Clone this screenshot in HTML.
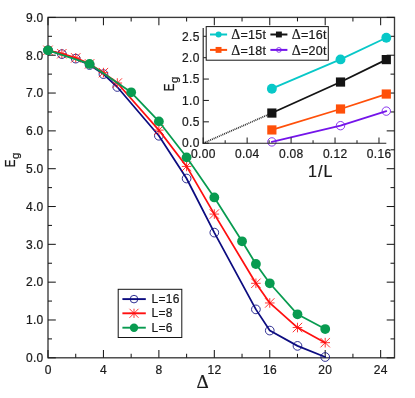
<!DOCTYPE html>
<html lang="en"><head><meta charset="utf-8"><title>Eg vs Delta</title>
<style>html,body{margin:0;padding:0;background:#fff}body{width:415px;height:398px;overflow:hidden}svg{display:block;opacity:0.999;will-change:transform}</style>
</head><body>
<svg width="415" height="398" viewBox="0 0 415 398">
<rect width="415" height="398" fill="#ffffff"/>
<rect x="48" y="17.4" width="346.5" height="340.4" fill="none" stroke="#3a3a3a" stroke-width="1.35"/>
<line x1="48" y1="357.8" x2="48" y2="350" stroke="#1a1a1a" stroke-width="1.05"/>
<line x1="48" y1="17.4" x2="48" y2="25.2" stroke="#1a1a1a" stroke-width="1.05"/>
<text x="48.15" y="373.8" font-size="12" text-anchor="middle" font-family='"Liberation Sans", Arial, Helvetica, sans-serif' fill="#1a1a1a" stroke="#1a1a1a" stroke-width="0.22" letter-spacing="0.3">0</text>
<line x1="75.72" y1="357.8" x2="75.72" y2="353.8" stroke="#1a1a1a" stroke-width="1.05"/>
<line x1="75.72" y1="17.4" x2="75.72" y2="21.4" stroke="#1a1a1a" stroke-width="1.05"/>
<line x1="103.44" y1="357.8" x2="103.44" y2="350" stroke="#1a1a1a" stroke-width="1.05"/>
<line x1="103.44" y1="17.4" x2="103.44" y2="25.2" stroke="#1a1a1a" stroke-width="1.05"/>
<text x="103.59" y="373.8" font-size="12" text-anchor="middle" font-family='"Liberation Sans", Arial, Helvetica, sans-serif' fill="#1a1a1a" stroke="#1a1a1a" stroke-width="0.22" letter-spacing="0.3">4</text>
<line x1="131.16" y1="357.8" x2="131.16" y2="353.8" stroke="#1a1a1a" stroke-width="1.05"/>
<line x1="131.16" y1="17.4" x2="131.16" y2="21.4" stroke="#1a1a1a" stroke-width="1.05"/>
<line x1="158.88" y1="357.8" x2="158.88" y2="350" stroke="#1a1a1a" stroke-width="1.05"/>
<line x1="158.88" y1="17.4" x2="158.88" y2="25.2" stroke="#1a1a1a" stroke-width="1.05"/>
<text x="159.03" y="373.8" font-size="12" text-anchor="middle" font-family='"Liberation Sans", Arial, Helvetica, sans-serif' fill="#1a1a1a" stroke="#1a1a1a" stroke-width="0.22" letter-spacing="0.3">8</text>
<line x1="186.6" y1="357.8" x2="186.6" y2="353.8" stroke="#1a1a1a" stroke-width="1.05"/>
<line x1="186.6" y1="17.4" x2="186.6" y2="21.4" stroke="#1a1a1a" stroke-width="1.05"/>
<line x1="214.32" y1="357.8" x2="214.32" y2="350" stroke="#1a1a1a" stroke-width="1.05"/>
<line x1="214.32" y1="17.4" x2="214.32" y2="25.2" stroke="#1a1a1a" stroke-width="1.05"/>
<text x="214.47" y="373.8" font-size="12" text-anchor="middle" font-family='"Liberation Sans", Arial, Helvetica, sans-serif' fill="#1a1a1a" stroke="#1a1a1a" stroke-width="0.22" letter-spacing="0.3">12</text>
<line x1="242.04" y1="357.8" x2="242.04" y2="353.8" stroke="#1a1a1a" stroke-width="1.05"/>
<line x1="242.04" y1="17.4" x2="242.04" y2="21.4" stroke="#1a1a1a" stroke-width="1.05"/>
<line x1="269.76" y1="357.8" x2="269.76" y2="350" stroke="#1a1a1a" stroke-width="1.05"/>
<line x1="269.76" y1="17.4" x2="269.76" y2="25.2" stroke="#1a1a1a" stroke-width="1.05"/>
<text x="269.91" y="373.8" font-size="12" text-anchor="middle" font-family='"Liberation Sans", Arial, Helvetica, sans-serif' fill="#1a1a1a" stroke="#1a1a1a" stroke-width="0.22" letter-spacing="0.3">16</text>
<line x1="297.48" y1="357.8" x2="297.48" y2="353.8" stroke="#1a1a1a" stroke-width="1.05"/>
<line x1="297.48" y1="17.4" x2="297.48" y2="21.4" stroke="#1a1a1a" stroke-width="1.05"/>
<line x1="325.2" y1="357.8" x2="325.2" y2="350" stroke="#1a1a1a" stroke-width="1.05"/>
<line x1="325.2" y1="17.4" x2="325.2" y2="25.2" stroke="#1a1a1a" stroke-width="1.05"/>
<text x="325.35" y="373.8" font-size="12" text-anchor="middle" font-family='"Liberation Sans", Arial, Helvetica, sans-serif' fill="#1a1a1a" stroke="#1a1a1a" stroke-width="0.22" letter-spacing="0.3">20</text>
<line x1="352.92" y1="357.8" x2="352.92" y2="353.8" stroke="#1a1a1a" stroke-width="1.05"/>
<line x1="352.92" y1="17.4" x2="352.92" y2="21.4" stroke="#1a1a1a" stroke-width="1.05"/>
<line x1="380.64" y1="357.8" x2="380.64" y2="350" stroke="#1a1a1a" stroke-width="1.05"/>
<line x1="380.64" y1="17.4" x2="380.64" y2="25.2" stroke="#1a1a1a" stroke-width="1.05"/>
<text x="380.79" y="373.8" font-size="12" text-anchor="middle" font-family='"Liberation Sans", Arial, Helvetica, sans-serif' fill="#1a1a1a" stroke="#1a1a1a" stroke-width="0.22" letter-spacing="0.3">24</text>
<line x1="48" y1="357.8" x2="55.8" y2="357.8" stroke="#1a1a1a" stroke-width="1.05"/>
<line x1="394.5" y1="357.8" x2="386.7" y2="357.8" stroke="#1a1a1a" stroke-width="1.05"/>
<text x="43.5" y="362.1" font-size="12" text-anchor="end" font-family='"Liberation Sans", Arial, Helvetica, sans-serif' fill="#1a1a1a" stroke="#1a1a1a" stroke-width="0.22" letter-spacing="0.3">0.0</text>
<line x1="48" y1="338.89" x2="52" y2="338.89" stroke="#1a1a1a" stroke-width="1.05"/>
<line x1="394.5" y1="338.89" x2="390.5" y2="338.89" stroke="#1a1a1a" stroke-width="1.05"/>
<line x1="48" y1="319.98" x2="55.8" y2="319.98" stroke="#1a1a1a" stroke-width="1.05"/>
<line x1="394.5" y1="319.98" x2="386.7" y2="319.98" stroke="#1a1a1a" stroke-width="1.05"/>
<text x="43.5" y="324.28" font-size="12" text-anchor="end" font-family='"Liberation Sans", Arial, Helvetica, sans-serif' fill="#1a1a1a" stroke="#1a1a1a" stroke-width="0.22" letter-spacing="0.3">1.0</text>
<line x1="48" y1="301.07" x2="52" y2="301.07" stroke="#1a1a1a" stroke-width="1.05"/>
<line x1="394.5" y1="301.07" x2="390.5" y2="301.07" stroke="#1a1a1a" stroke-width="1.05"/>
<line x1="48" y1="282.16" x2="55.8" y2="282.16" stroke="#1a1a1a" stroke-width="1.05"/>
<line x1="394.5" y1="282.16" x2="386.7" y2="282.16" stroke="#1a1a1a" stroke-width="1.05"/>
<text x="43.5" y="286.46" font-size="12" text-anchor="end" font-family='"Liberation Sans", Arial, Helvetica, sans-serif' fill="#1a1a1a" stroke="#1a1a1a" stroke-width="0.22" letter-spacing="0.3">2.0</text>
<line x1="48" y1="263.24" x2="52" y2="263.24" stroke="#1a1a1a" stroke-width="1.05"/>
<line x1="394.5" y1="263.24" x2="390.5" y2="263.24" stroke="#1a1a1a" stroke-width="1.05"/>
<line x1="48" y1="244.33" x2="55.8" y2="244.33" stroke="#1a1a1a" stroke-width="1.05"/>
<line x1="394.5" y1="244.33" x2="386.7" y2="244.33" stroke="#1a1a1a" stroke-width="1.05"/>
<text x="43.5" y="248.63" font-size="12" text-anchor="end" font-family='"Liberation Sans", Arial, Helvetica, sans-serif' fill="#1a1a1a" stroke="#1a1a1a" stroke-width="0.22" letter-spacing="0.3">3.0</text>
<line x1="48" y1="225.42" x2="52" y2="225.42" stroke="#1a1a1a" stroke-width="1.05"/>
<line x1="394.5" y1="225.42" x2="390.5" y2="225.42" stroke="#1a1a1a" stroke-width="1.05"/>
<line x1="48" y1="206.51" x2="55.8" y2="206.51" stroke="#1a1a1a" stroke-width="1.05"/>
<line x1="394.5" y1="206.51" x2="386.7" y2="206.51" stroke="#1a1a1a" stroke-width="1.05"/>
<text x="43.5" y="210.81" font-size="12" text-anchor="end" font-family='"Liberation Sans", Arial, Helvetica, sans-serif' fill="#1a1a1a" stroke="#1a1a1a" stroke-width="0.22" letter-spacing="0.3">4.0</text>
<line x1="48" y1="187.6" x2="52" y2="187.6" stroke="#1a1a1a" stroke-width="1.05"/>
<line x1="394.5" y1="187.6" x2="390.5" y2="187.6" stroke="#1a1a1a" stroke-width="1.05"/>
<line x1="48" y1="168.69" x2="55.8" y2="168.69" stroke="#1a1a1a" stroke-width="1.05"/>
<line x1="394.5" y1="168.69" x2="386.7" y2="168.69" stroke="#1a1a1a" stroke-width="1.05"/>
<text x="43.5" y="172.99" font-size="12" text-anchor="end" font-family='"Liberation Sans", Arial, Helvetica, sans-serif' fill="#1a1a1a" stroke="#1a1a1a" stroke-width="0.22" letter-spacing="0.3">5.0</text>
<line x1="48" y1="149.78" x2="52" y2="149.78" stroke="#1a1a1a" stroke-width="1.05"/>
<line x1="394.5" y1="149.78" x2="390.5" y2="149.78" stroke="#1a1a1a" stroke-width="1.05"/>
<line x1="48" y1="130.87" x2="55.8" y2="130.87" stroke="#1a1a1a" stroke-width="1.05"/>
<line x1="394.5" y1="130.87" x2="386.7" y2="130.87" stroke="#1a1a1a" stroke-width="1.05"/>
<text x="43.5" y="135.17" font-size="12" text-anchor="end" font-family='"Liberation Sans", Arial, Helvetica, sans-serif' fill="#1a1a1a" stroke="#1a1a1a" stroke-width="0.22" letter-spacing="0.3">6.0</text>
<line x1="48" y1="111.96" x2="52" y2="111.96" stroke="#1a1a1a" stroke-width="1.05"/>
<line x1="394.5" y1="111.96" x2="390.5" y2="111.96" stroke="#1a1a1a" stroke-width="1.05"/>
<line x1="48" y1="93.04" x2="55.8" y2="93.04" stroke="#1a1a1a" stroke-width="1.05"/>
<line x1="394.5" y1="93.04" x2="386.7" y2="93.04" stroke="#1a1a1a" stroke-width="1.05"/>
<text x="43.5" y="97.34" font-size="12" text-anchor="end" font-family='"Liberation Sans", Arial, Helvetica, sans-serif' fill="#1a1a1a" stroke="#1a1a1a" stroke-width="0.22" letter-spacing="0.3">7.0</text>
<line x1="48" y1="74.13" x2="52" y2="74.13" stroke="#1a1a1a" stroke-width="1.05"/>
<line x1="394.5" y1="74.13" x2="390.5" y2="74.13" stroke="#1a1a1a" stroke-width="1.05"/>
<line x1="48" y1="55.22" x2="55.8" y2="55.22" stroke="#1a1a1a" stroke-width="1.05"/>
<line x1="394.5" y1="55.22" x2="386.7" y2="55.22" stroke="#1a1a1a" stroke-width="1.05"/>
<text x="43.5" y="59.52" font-size="12" text-anchor="end" font-family='"Liberation Sans", Arial, Helvetica, sans-serif' fill="#1a1a1a" stroke="#1a1a1a" stroke-width="0.22" letter-spacing="0.3">8.0</text>
<line x1="48" y1="36.31" x2="52" y2="36.31" stroke="#1a1a1a" stroke-width="1.05"/>
<line x1="394.5" y1="36.31" x2="390.5" y2="36.31" stroke="#1a1a1a" stroke-width="1.05"/>
<line x1="48" y1="17.4" x2="55.8" y2="17.4" stroke="#1a1a1a" stroke-width="1.05"/>
<line x1="394.5" y1="17.4" x2="386.7" y2="17.4" stroke="#1a1a1a" stroke-width="1.05"/>
<text x="43.5" y="21.7" font-size="12" text-anchor="end" font-family='"Liberation Sans", Arial, Helvetica, sans-serif' fill="#1a1a1a" stroke="#1a1a1a" stroke-width="0.22" letter-spacing="0.3">9.0</text>
<polyline fill="none" stroke="#0c0c80" stroke-width="1.75" stroke-linejoin="round" stroke-linecap="round" points="48,50.31 61.86,54.09 75.72,58.63 89.58,65.06 103.44,74.13 117.3,86.99 158.88,135.78 186.6,178.52 214.32,232.61 255.9,309.39 269.76,330.57 297.48,345.89 325.2,357.04"/>
<circle cx="48" cy="50.31" r="4.35" fill="none" stroke="#0c0c80" stroke-width="0.85"/>
<circle cx="61.86" cy="54.09" r="4.35" fill="none" stroke="#0c0c80" stroke-width="0.85"/>
<circle cx="75.72" cy="58.63" r="4.35" fill="none" stroke="#0c0c80" stroke-width="0.85"/>
<circle cx="89.58" cy="65.06" r="4.35" fill="none" stroke="#0c0c80" stroke-width="0.85"/>
<circle cx="103.44" cy="74.13" r="4.35" fill="none" stroke="#0c0c80" stroke-width="0.85"/>
<circle cx="117.3" cy="86.99" r="4.35" fill="none" stroke="#0c0c80" stroke-width="0.85"/>
<circle cx="158.88" cy="135.78" r="4.35" fill="none" stroke="#0c0c80" stroke-width="0.85"/>
<circle cx="186.6" cy="178.52" r="4.35" fill="none" stroke="#0c0c80" stroke-width="0.85"/>
<circle cx="214.32" cy="232.61" r="4.35" fill="none" stroke="#0c0c80" stroke-width="0.85"/>
<circle cx="255.9" cy="309.39" r="4.35" fill="none" stroke="#0c0c80" stroke-width="0.85"/>
<circle cx="269.76" cy="330.57" r="4.35" fill="none" stroke="#0c0c80" stroke-width="0.85"/>
<circle cx="297.48" cy="345.89" r="4.35" fill="none" stroke="#0c0c80" stroke-width="0.85"/>
<circle cx="325.2" cy="357.04" r="4.35" fill="none" stroke="#0c0c80" stroke-width="0.85"/>
<polyline fill="none" stroke="#ff1010" stroke-width="1.75" stroke-linejoin="round" stroke-linecap="round" points="48,50.31 61.86,53.71 75.72,57.87 89.58,63.92 103.44,72.62 117.3,83.02 158.88,130.11 186.6,166.42 214.32,214.08 255.9,283.29 269.76,302.96 297.48,327.54 325.2,342.67"/>
<path d="M43.2 50.31H52.8M48 45.51V55.11M43.3 45.6L52.7 55.01M43.3 55.01L52.7 45.6" stroke="#ff1010" stroke-width="0.85" fill="none"/>
<path d="M57.06 53.71H66.66M61.86 48.91V58.51M57.16 49.01L66.56 58.41M57.16 58.41L66.56 49.01" stroke="#ff1010" stroke-width="0.85" fill="none"/>
<path d="M70.92 57.87H80.52M75.72 53.07V62.67M71.02 53.17L80.42 62.57M71.02 62.57L80.42 53.17" stroke="#ff1010" stroke-width="0.85" fill="none"/>
<path d="M84.78 63.92H94.38M89.58 59.12V68.72M84.88 59.22L94.28 68.63M84.88 68.63L94.28 59.22" stroke="#ff1010" stroke-width="0.85" fill="none"/>
<path d="M98.64 72.62H108.24M103.44 67.82V77.42M98.74 67.92L108.14 77.32M98.74 77.32L108.14 67.92" stroke="#ff1010" stroke-width="0.85" fill="none"/>
<path d="M112.5 83.02H122.1M117.3 78.22V87.82M112.6 78.32L122 87.73M112.6 87.73L122 78.32" stroke="#ff1010" stroke-width="0.85" fill="none"/>
<path d="M154.08 130.11H163.68M158.88 125.31V134.91M154.18 125.41L163.58 134.81M154.18 134.81L163.58 125.41" stroke="#ff1010" stroke-width="0.85" fill="none"/>
<path d="M181.8 166.42H191.4M186.6 161.62V171.22M181.9 161.72L191.3 171.12M181.9 171.12L191.3 161.72" stroke="#ff1010" stroke-width="0.85" fill="none"/>
<path d="M209.52 214.08H219.12M214.32 209.28V218.88M209.62 209.37L219.02 218.78M209.62 218.78L219.02 209.37" stroke="#ff1010" stroke-width="0.85" fill="none"/>
<path d="M251.1 283.29H260.7M255.9 278.49V288.09M251.2 278.59L260.6 287.99M251.2 287.99L260.6 278.59" stroke="#ff1010" stroke-width="0.85" fill="none"/>
<path d="M264.96 302.96H274.56M269.76 298.16V307.76M265.06 298.25L274.46 307.66M265.06 307.66L274.46 298.25" stroke="#ff1010" stroke-width="0.85" fill="none"/>
<path d="M292.68 327.54H302.28M297.48 322.74V332.34M292.78 322.84L302.18 332.25M292.78 332.25L302.18 322.84" stroke="#ff1010" stroke-width="0.85" fill="none"/>
<path d="M320.4 342.67H330M325.2 337.87V347.47M320.5 337.97L329.9 347.38M320.5 347.38L329.9 337.97" stroke="#ff1010" stroke-width="0.85" fill="none"/>
<polyline fill="none" stroke="#089b50" stroke-width="1.75" stroke-linejoin="round" stroke-linecap="round" points="48,50.31 89.58,63.92 131.16,92.29 158.88,121.41 186.6,157.34 214.32,197.43 242.04,241.31 255.9,264 269.76,283.29 297.48,314.3 325.2,329.06"/>
<circle cx="48" cy="50.31" r="4.9" fill="#089b50" stroke="none" stroke-width="1"/>
<circle cx="89.58" cy="63.92" r="4.9" fill="#089b50" stroke="none" stroke-width="1"/>
<circle cx="131.16" cy="92.29" r="4.9" fill="#089b50" stroke="none" stroke-width="1"/>
<circle cx="158.88" cy="121.41" r="4.9" fill="#089b50" stroke="none" stroke-width="1"/>
<circle cx="186.6" cy="157.34" r="4.9" fill="#089b50" stroke="none" stroke-width="1"/>
<circle cx="214.32" cy="197.43" r="4.9" fill="#089b50" stroke="none" stroke-width="1"/>
<circle cx="242.04" cy="241.31" r="4.9" fill="#089b50" stroke="none" stroke-width="1"/>
<circle cx="255.9" cy="264" r="4.9" fill="#089b50" stroke="none" stroke-width="1"/>
<circle cx="269.76" cy="283.29" r="4.9" fill="#089b50" stroke="none" stroke-width="1"/>
<circle cx="297.48" cy="314.3" r="4.9" fill="#089b50" stroke="none" stroke-width="1"/>
<circle cx="325.2" cy="329.06" r="4.9" fill="#089b50" stroke="none" stroke-width="1"/>
<g transform="translate(15.1,167.2) rotate(-90)"><text x="0" y="0" font-size="15.5" font-family='"Liberation Sans", Arial, Helvetica, sans-serif' fill="#1a1a1a" stroke="#1a1a1a" stroke-width="0.22" textLength="7.8" lengthAdjust="spacingAndGlyphs">E</text><text x="8.1" y="3.6" font-size="11.5" font-family='"Liberation Sans", Arial, Helvetica, sans-serif' fill="#1a1a1a" stroke="#1a1a1a" stroke-width="0.22">g</text></g>
<text x="202.5" y="387.7" font-size="19" text-anchor="middle" font-family='"Liberation Serif", "DejaVu Serif", serif' fill="#1a1a1a" stroke="#1a1a1a" stroke-width="0.22">Δ</text>
<rect x="118.2" y="289.3" width="63.6" height="48.2" fill="#fff" stroke="#151515" stroke-width="1.0"/>
<line x1="122.4" y1="299.1" x2="145.8" y2="299.1" stroke="#0c0c80" stroke-width="1.9"/>
<circle cx="134" cy="299.1" r="3.8" fill="none" stroke="#0c0c80" stroke-width="0.85"/>
<text x="151.6" y="303.1" font-size="12" text-anchor="start" font-family='"Liberation Sans", Arial, Helvetica, sans-serif' fill="#1a1a1a" stroke="#1a1a1a" stroke-width="0.22" letter-spacing="0.25">L=16</text>
<line x1="122.4" y1="313.3" x2="145.8" y2="313.3" stroke="#ff1010" stroke-width="1.9"/>
<path d="M129.4 313.3H138.6M134 308.7V317.9M129.49 308.79L138.51 317.81M129.49 317.81L138.51 308.79" stroke="#ff1010" stroke-width="0.85" fill="none"/>
<text x="151.6" y="317.3" font-size="12" text-anchor="start" font-family='"Liberation Sans", Arial, Helvetica, sans-serif' fill="#1a1a1a" stroke="#1a1a1a" stroke-width="0.22" letter-spacing="0.25">L=8</text>
<line x1="122.4" y1="327.7" x2="145.8" y2="327.7" stroke="#089b50" stroke-width="1.9"/>
<circle cx="134" cy="327.7" r="4.2" fill="#089b50" stroke="none" stroke-width="1"/>
<text x="151.6" y="331.7" font-size="12" text-anchor="start" font-family='"Liberation Sans", Arial, Helvetica, sans-serif' fill="#1a1a1a" stroke="#1a1a1a" stroke-width="0.22" letter-spacing="0.25">L=6</text>
<line x1="203.2" y1="143.2" x2="271.86" y2="113.05" stroke="#2a2a2a" stroke-width="1.7" stroke-dasharray="1 0.9"/>
<polyline fill="none" stroke="#08c8c8" stroke-width="1.8" stroke-linejoin="round" stroke-linecap="round" points="271.86,88.68 340.52,59.39 386.3,37.8"/>
<circle cx="271.86" cy="88.68" r="4.95" fill="#08c8c8" stroke="none" stroke-width="1"/>
<circle cx="340.52" cy="59.39" r="4.95" fill="#08c8c8" stroke="none" stroke-width="1"/>
<circle cx="386.3" cy="37.8" r="4.95" fill="#08c8c8" stroke="none" stroke-width="1"/>
<polyline fill="none" stroke="#141414" stroke-width="1.8" stroke-linejoin="round" stroke-linecap="round" points="271.86,113.05 340.52,82.05 386.3,59.6"/>
<rect x="267.26" y="108.45" width="9.2" height="9.2" fill="#141414"/>
<rect x="335.92" y="77.45" width="9.2" height="9.2" fill="#141414"/>
<rect x="381.7" y="55" width="9.2" height="9.2" fill="#141414"/>
<polyline fill="none" stroke="#ff500a" stroke-width="1.8" stroke-linejoin="round" stroke-linecap="round" points="271.86,129.94 340.52,108.99 386.3,94.03"/>
<rect x="267.26" y="125.34" width="9.2" height="9.2" fill="#ff500a"/>
<rect x="335.92" y="104.39" width="9.2" height="9.2" fill="#ff500a"/>
<rect x="381.7" y="89.43" width="9.2" height="9.2" fill="#ff500a"/>
<polyline fill="none" stroke="#7414ea" stroke-width="1.8" stroke-linejoin="round" stroke-linecap="round" points="271.86,141.92 340.52,125.67 386.3,111.13"/>
<circle cx="271.86" cy="141.92" r="4.2" fill="none" stroke="#7414ea" stroke-width="0.85"/>
<circle cx="340.52" cy="125.67" r="4.2" fill="none" stroke="#7414ea" stroke-width="0.85"/>
<circle cx="386.3" cy="111.13" r="4.2" fill="none" stroke="#7414ea" stroke-width="0.85"/>
<line x1="203.2" y1="28" x2="203.2" y2="143.8" stroke="#222" stroke-width="1.15"/>
<line x1="202.6" y1="143.2" x2="386.3" y2="143.2" stroke="#222" stroke-width="1.15"/>
<line x1="203.2" y1="143.2" x2="203.2" y2="137.5" stroke="#222" stroke-width="1.05"/>
<text x="203.35" y="158.3" font-size="12" text-anchor="middle" font-family='"Liberation Sans", Arial, Helvetica, sans-serif' fill="#1a1a1a" stroke="#1a1a1a" stroke-width="0.22" letter-spacing="0.3">0.00</text>
<line x1="225.17" y1="143.2" x2="225.17" y2="140.2" stroke="#222" stroke-width="1.05"/>
<line x1="247.14" y1="143.2" x2="247.14" y2="137.5" stroke="#222" stroke-width="1.05"/>
<text x="247.29" y="158.3" font-size="12" text-anchor="middle" font-family='"Liberation Sans", Arial, Helvetica, sans-serif' fill="#1a1a1a" stroke="#1a1a1a" stroke-width="0.22" letter-spacing="0.3">0.04</text>
<line x1="269.12" y1="143.2" x2="269.12" y2="140.2" stroke="#222" stroke-width="1.05"/>
<line x1="291.09" y1="143.2" x2="291.09" y2="137.5" stroke="#222" stroke-width="1.05"/>
<text x="291.24" y="158.3" font-size="12" text-anchor="middle" font-family='"Liberation Sans", Arial, Helvetica, sans-serif' fill="#1a1a1a" stroke="#1a1a1a" stroke-width="0.22" letter-spacing="0.3">0.08</text>
<line x1="313.06" y1="143.2" x2="313.06" y2="140.2" stroke="#222" stroke-width="1.05"/>
<line x1="335.03" y1="143.2" x2="335.03" y2="137.5" stroke="#222" stroke-width="1.05"/>
<text x="335.18" y="158.3" font-size="12" text-anchor="middle" font-family='"Liberation Sans", Arial, Helvetica, sans-serif' fill="#1a1a1a" stroke="#1a1a1a" stroke-width="0.22" letter-spacing="0.3">0.12</text>
<line x1="357" y1="143.2" x2="357" y2="140.2" stroke="#222" stroke-width="1.05"/>
<line x1="378.98" y1="143.2" x2="378.98" y2="137.5" stroke="#222" stroke-width="1.05"/>
<text x="379.13" y="158.3" font-size="12" text-anchor="middle" font-family='"Liberation Sans", Arial, Helvetica, sans-serif' fill="#1a1a1a" stroke="#1a1a1a" stroke-width="0.22" letter-spacing="0.3">0.16</text>
<line x1="203.2" y1="143.2" x2="208.9" y2="143.2" stroke="#222" stroke-width="1.05"/>
<text x="199.7" y="147.4" font-size="12" text-anchor="end" font-family='"Liberation Sans", Arial, Helvetica, sans-serif' fill="#1a1a1a" stroke="#1a1a1a" stroke-width="0.22" letter-spacing="0.3">0.0</text>
<line x1="203.2" y1="121.82" x2="208.9" y2="121.82" stroke="#222" stroke-width="1.05"/>
<text x="199.7" y="126.02" font-size="12" text-anchor="end" font-family='"Liberation Sans", Arial, Helvetica, sans-serif' fill="#1a1a1a" stroke="#1a1a1a" stroke-width="0.22" letter-spacing="0.3">0.5</text>
<line x1="203.2" y1="100.44" x2="208.9" y2="100.44" stroke="#222" stroke-width="1.05"/>
<text x="199.7" y="104.64" font-size="12" text-anchor="end" font-family='"Liberation Sans", Arial, Helvetica, sans-serif' fill="#1a1a1a" stroke="#1a1a1a" stroke-width="0.22" letter-spacing="0.3">1.0</text>
<line x1="203.2" y1="79.06" x2="208.9" y2="79.06" stroke="#222" stroke-width="1.05"/>
<text x="199.7" y="83.26" font-size="12" text-anchor="end" font-family='"Liberation Sans", Arial, Helvetica, sans-serif' fill="#1a1a1a" stroke="#1a1a1a" stroke-width="0.22" letter-spacing="0.3">1.5</text>
<line x1="203.2" y1="57.68" x2="208.9" y2="57.68" stroke="#222" stroke-width="1.05"/>
<text x="199.7" y="61.88" font-size="12" text-anchor="end" font-family='"Liberation Sans", Arial, Helvetica, sans-serif' fill="#1a1a1a" stroke="#1a1a1a" stroke-width="0.22" letter-spacing="0.3">2.0</text>
<line x1="203.2" y1="36.3" x2="208.9" y2="36.3" stroke="#222" stroke-width="1.05"/>
<text x="199.7" y="40.5" font-size="12" text-anchor="end" font-family='"Liberation Sans", Arial, Helvetica, sans-serif' fill="#1a1a1a" stroke="#1a1a1a" stroke-width="0.22" letter-spacing="0.3">2.5</text>
<text x="320.7" y="177" font-size="16" text-anchor="middle" font-family='"Liberation Sans", Arial, Helvetica, sans-serif' fill="#1a1a1a" stroke="#1a1a1a" stroke-width="0.22" letter-spacing="1.1">1/L</text>
<g transform="translate(174.0,91.2) rotate(-90)"><text x="0" y="0" font-size="15.5" font-family='"Liberation Sans", Arial, Helvetica, sans-serif' fill="#1a1a1a" stroke="#1a1a1a" stroke-width="0.22" textLength="7.8" lengthAdjust="spacingAndGlyphs">E</text><text x="8.3" y="3.7" font-size="11.5" font-family='"Liberation Sans", Arial, Helvetica, sans-serif' fill="#1a1a1a" stroke="#1a1a1a" stroke-width="0.22">g</text></g>
<rect x="206.2" y="26.6" width="122.1" height="33.6" fill="#fff" stroke="#151515" stroke-width="1.0"/>
<line x1="210" y1="34.5" x2="227.1" y2="34.5" stroke="#08c8c8" stroke-width="2.0"/>
<circle cx="218.55" cy="34.5" r="3.0" fill="#08c8c8" stroke="none" stroke-width="1"/>
<text x="231.2" y="39.25" font-size="12.5" letter-spacing="0.25" font-family='"Liberation Sans", Arial, Helvetica, sans-serif' fill="#1a1a1a" stroke="#1a1a1a" stroke-width="0.22"><tspan font-family='"Liberation Serif", "DejaVu Serif", serif' font-size="14">Δ</tspan>=15t</text>
<line x1="270.4" y1="34.5" x2="287.4" y2="34.5" stroke="#141414" stroke-width="2.0"/>
<rect x="275.95" y="31.55" width="5.9" height="5.9" fill="#141414"/>
<text x="291.7" y="39.25" font-size="12.5" letter-spacing="0.25" font-family='"Liberation Sans", Arial, Helvetica, sans-serif' fill="#1a1a1a" stroke="#1a1a1a" stroke-width="0.22"><tspan font-family='"Liberation Serif", "DejaVu Serif", serif' font-size="14">Δ</tspan>=16t</text>
<line x1="210" y1="49.9" x2="227.1" y2="49.9" stroke="#ff500a" stroke-width="2.0"/>
<rect x="215.6" y="46.95" width="5.9" height="5.9" fill="#ff500a"/>
<text x="231.2" y="54.65" font-size="12.5" letter-spacing="0.25" font-family='"Liberation Sans", Arial, Helvetica, sans-serif' fill="#1a1a1a" stroke="#1a1a1a" stroke-width="0.22"><tspan font-family='"Liberation Serif", "DejaVu Serif", serif' font-size="14">Δ</tspan>=18t</text>
<line x1="270.4" y1="49.9" x2="287.4" y2="49.9" stroke="#7414ea" stroke-width="2.0"/>
<circle cx="278.9" cy="49.9" r="2.4" fill="none" stroke="#7414ea" stroke-width="0.8"/>
<text x="291.7" y="54.65" font-size="12.5" letter-spacing="0.25" font-family='"Liberation Sans", Arial, Helvetica, sans-serif' fill="#1a1a1a" stroke="#1a1a1a" stroke-width="0.22"><tspan font-family='"Liberation Serif", "DejaVu Serif", serif' font-size="14">Δ</tspan>=20t</text>
</svg>
</body></html>
